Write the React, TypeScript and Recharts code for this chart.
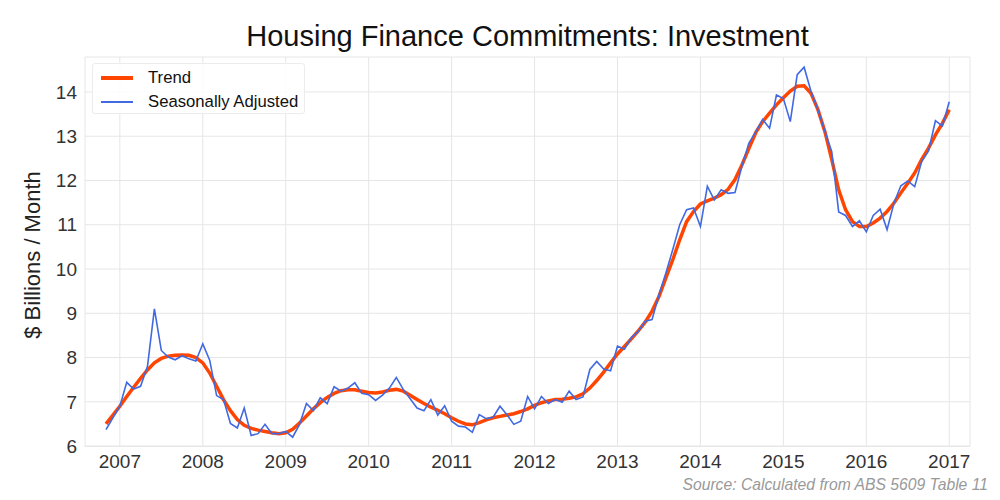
import { LineChart, Line, XAxis, YAxis, CartesianGrid, Legend } from 'recharts';

// monthly series, first point Nov 2006, last Jan 2017
const startYear = 2006;
const startMonth = 11;

const seasonallyAdjusted = [
  6.37, 6.64,
  6.90, 7.44, 7.29, 7.35, 7.80, 9.10, 8.16, 8.01, 7.95, 8.04, 7.97, 7.92,
  8.31, 7.94, 7.14, 7.05, 6.51, 6.41, 6.86, 6.24, 6.28, 6.49, 6.28, 6.28,
  6.33, 6.20, 6.49, 6.96, 6.80, 7.09, 6.96, 7.34, 7.24, 7.31, 7.43, 7.19,
  7.16, 7.03, 7.15, 7.31, 7.55, 7.28, 7.07, 6.86, 6.80, 7.05, 6.70, 6.91,
  6.56, 6.45, 6.43, 6.31, 6.71, 6.62, 6.65, 6.90, 6.71, 6.49, 6.56, 7.12,
  6.84, 7.12, 6.96, 7.05, 6.99, 7.24, 7.05, 7.11, 7.73, 7.91, 7.74, 7.70,
  8.26, 8.19, 8.45, 8.59, 8.82, 8.86, 9.42, 9.91, 10.44, 11.00, 11.34, 11.38,
  10.96, 11.87, 11.56, 11.79, 11.71, 11.73, 12.32, 12.84, 13.10, 13.38, 13.18, 13.93,
  13.85, 13.33, 14.39, 14.56, 14.01, 13.60, 13.11, 12.65, 11.29, 11.21, 10.96, 11.09,
  10.84, 11.21, 11.35, 10.89, 11.49, 11.88, 11.99, 11.86, 12.43, 12.67, 13.35, 13.23,
  13.78,
];

const trend = [
  6.50, 6.70,
  6.90, 7.12, 7.33, 7.53, 7.72, 7.88, 7.98, 8.03, 8.05, 8.06, 8.05, 8.00,
  7.88, 7.65, 7.35, 7.05, 6.80, 6.60, 6.47, 6.40, 6.36, 6.33, 6.30, 6.28,
  6.30, 6.38, 6.52, 6.68, 6.84, 6.98, 7.10, 7.19, 7.25, 7.27, 7.27, 7.24,
  7.21, 7.20, 7.22, 7.26, 7.28, 7.24, 7.15, 7.05, 6.96, 6.88, 6.81, 6.73,
  6.64, 6.56, 6.50, 6.48, 6.53, 6.59, 6.64, 6.67, 6.70, 6.73, 6.78, 6.84,
  6.92, 6.98, 7.02, 7.05, 7.06, 7.08, 7.11, 7.18, 7.31, 7.48, 7.67, 7.88,
  8.08, 8.25, 8.42, 8.60, 8.80, 9.05, 9.38, 9.80, 10.21, 10.66, 11.07, 11.30,
  11.47, 11.54, 11.60, 11.68, 11.80, 12.02, 12.35, 12.72, 13.08, 13.33, 13.52, 13.71,
  13.87, 14.02, 14.13, 14.14, 13.97, 13.60, 13.11, 12.47, 11.79, 11.34, 11.07, 10.96,
  10.96, 11.04, 11.15, 11.30, 11.49, 11.72, 11.94, 12.17, 12.47, 12.73, 13.03, 13.29,
  13.60,
];

const yearTicks = [2007, 2008, 2009, 2010, 2011, 2012, 2013, 2014, 2015, 2016, 2017];
const valueTicks = [6, 7, 8, 9, 10, 11, 12, 13, 14];
const legendOrder = ['Trend', 'Seasonally Adjusted'];

const data = seasonallyAdjusted.map((sa, i) => ({
  t: startYear + (startMonth - 1 + i) / 12,
  sa,
  trend: trend[i],
}));

const legendWidths: Record<string, number> = {
  Trend: 4,
  'Seasonally Adjusted': 2,
};

const LegendBox = (props: any) => {
  const items = [...(props.payload || [])].sort(
    (a: any, b: any) => legendOrder.indexOf(a.value) - legendOrder.indexOf(b.value)
  );
  return (
    <div
      style={{
        width: 213,
        height: 51,
        border: '1px solid #ececec',
        borderRadius: 3,
        background: 'rgba(255,255,255,0.85)',
        position: 'relative',
        boxSizing: 'border-box',
      }}
    >
      {items.map((entry: any, i: number) => (
        <div
          key={entry.value}
          style={{
            position: 'absolute',
            left: 0,
            top: 3 + i * 23.5,
            height: 22,
            display: 'flex',
            alignItems: 'center',
          }}
        >
          <div
            style={{
              marginLeft: 8,
              width: 32,
              height: legendWidths[entry.value],
              background: entry.color,
            }}
          />
          <span style={{ marginLeft: 15, fontSize: 16.7, color: '#111', whiteSpace: 'nowrap' }}>
            {entry.value}
          </span>
        </div>
      ))}
    </div>
  );
};

export default function App() {
  return (
    <div
      style={{
        position: 'absolute',
        left: 0,
        top: 0,
        width: 1000,
        height: 500,
        background: '#fff',
        fontFamily: '"Liberation Sans", Arial, sans-serif',
      }}
    >
      <LineChart
        width={1000}
        height={500}
        data={data}
        margin={{ top: 57, right: 30, bottom: 0, left: 0 }}
      >
        <CartesianGrid stroke="#e6e6e6" strokeWidth={1} />
        <XAxis
          dataKey="t"
          type="number"
          domain={[2006.58, 2017.25]}
          ticks={yearTicks}
          allowDataOverflow
          axisLine={false}
          tickLine={false}
          height={53.5}
          tick={{ fontSize: 19, fill: '#333' }}
        />
        <YAxis
          type="number"
          domain={[5.99, 14.79]}
          ticks={valueTicks}
          allowDataOverflow
          axisLine={false}
          tickLine={false}
          width={85}
          tick={{ fontSize: 19, fill: '#333' }}
        />
        <Legend
          layout="vertical"
          align="center"
          verticalAlign="middle"
          content={<LegendBox />}
          wrapperStyle={{ left: 92, top: 63, width: 213, height: 51 }}
        />
        <Line
          name="Trend"
          dataKey="trend"
          stroke="#FF4500"
          strokeWidth={3.5}
          dot={false}
          activeDot={false}
          type="linear"
          isAnimationActive={false}
        />
        <Line
          name="Seasonally Adjusted"
          dataKey="sa"
          stroke="#4169E1"
          strokeWidth={1.6}
          dot={false}
          activeDot={false}
          type="linear"
          isAnimationActive={false}
        />
      </LineChart>
      <div
        style={{
          position: 'absolute',
          left: 85,
          width: 885,
          top: 21,
          textAlign: 'center',
          fontSize: 29,
          lineHeight: '31px',
          color: '#111',
        }}
      >
        Housing Finance Commitments: Investment
      </div>
      <div
        style={{
          position: 'absolute',
          left: 33 - 150,
          top: 255 - 13,
          width: 300,
          height: 26,
          lineHeight: '26px',
          textAlign: 'center',
          fontSize: 22,
          color: '#222',
          transform: 'rotate(-90deg)',
        }}
      >
        $ Billions / Month
      </div>
      <div
        style={{
          position: 'absolute',
          right: 12,
          top: 476,
          fontSize: 15.7,
          lineHeight: '18px',
          fontStyle: 'italic',
          color: '#999',
          whiteSpace: 'nowrap',
        }}
      >
        Source: Calculated from ABS 5609 Table 11
      </div>
    </div>
  );
}
